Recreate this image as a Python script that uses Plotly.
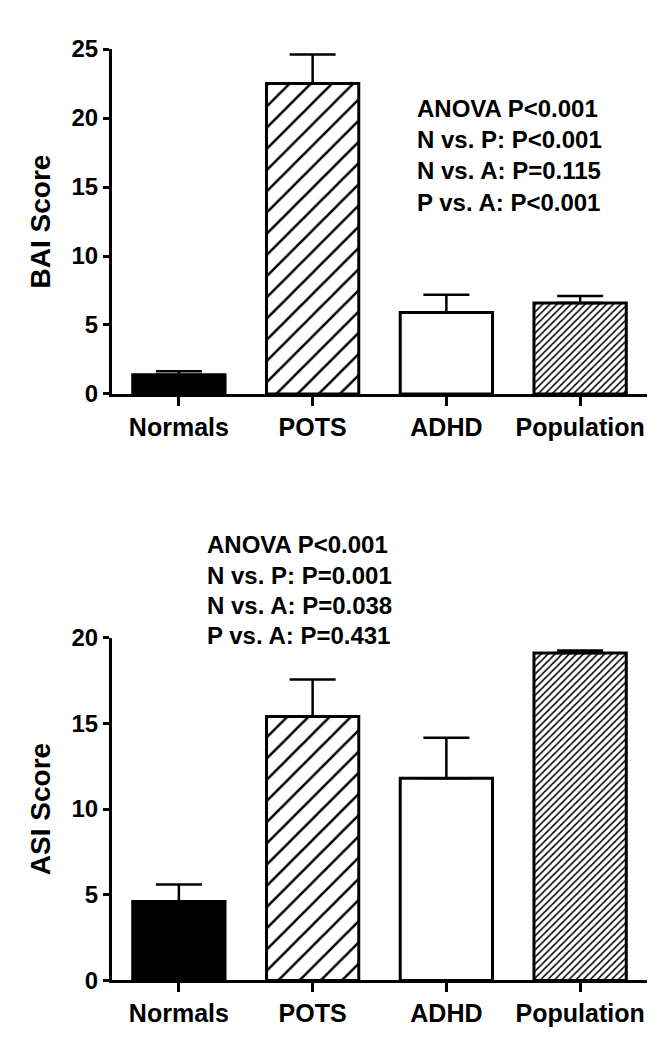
import plotly.graph_objects as go

categories = ["Normals", "POTS", "ADHD", "Population"]

bai_mean = [1.4, 22.5, 5.9, 6.6]
bai_sem = [0.25, 2.1, 1.3, 0.5]

asi_mean = [4.6, 15.4, 11.8, 19.1]
asi_sem = [1.0, 2.15, 2.35, 0.15]

bai_stats = ["ANOVA P&lt;0.001", "N vs. P: P&lt;0.001", "N vs. A: P=0.115", "P vs. A: P&lt;0.001"]
asi_stats = ["ANOVA P&lt;0.001", "N vs. P: P=0.001", "N vs. A: P=0.038", "P vs. A: P=0.431"]

W, H = 672, 1050
FONT = "Liberation Sans, Arial, sans-serif"

# bar styling per group: solid black, coarse hatch, empty, fine hatch
bar_fill = ["black", "white", "white", "white"]
pat_shape = ["", "/", "", "/"]
pat_size = [8, 15, 8, 5]
pat_solid = [0.3, 0.17, 0.3, 0.3]


def px_x(x):
    return x / W


def px_y(y):
    return 1 - y / H


def add_bars(fig, means, sems, xa, ya):
    # one trace per bar so each gets its own fill pattern
    for i, cat in enumerate(categories):
        marker = dict(color=bar_fill[i], line=dict(color="black", width=3))
        if pat_shape[i]:
            marker["pattern"] = dict(shape=pat_shape[i], size=pat_size[i], solidity=pat_solid[i],
                                     fgcolor="black", bgcolor="white", fillmode="replace")
        fig.add_trace(go.Bar(
            x=[cat], y=[means[i]], xaxis=xa, yaxis=ya, width=0.69,
            marker=marker,
            error_y=dict(type="data", symmetric=False, array=[sems[i]], arrayminus=[0],
                         color="black", thickness=2.5, width=23),
            showlegend=False, hoverinfo="skip",
        ))


fig = go.Figure()
add_bars(fig, bai_mean, bai_sem, "x", "y")
add_bars(fig, asi_mean, asi_sem, "x2", "y2")

xdom = [px_x(112), px_x(647)]
tickfont = dict(family=FONT, size=24, color="black", weight="bold")
catfont = dict(family=FONT, size=25, color="black", weight="bold")
titlefont = dict(family=FONT, size=28, color="black", weight="bold")

xaxis_common = dict(
    domain=xdom, range=[-0.5, 3.5], showline=True, linecolor="black", linewidth=3,
    ticks="outside", ticklen=9, tickwidth=3, tickcolor="black", tickfont=catfont,
    categoryorder="array", categoryarray=categories,
    showgrid=False, zeroline=False, fixedrange=True,
)
yaxis_common = dict(
    showline=True, linecolor="black", linewidth=3, dtick=5,
    ticks="outside", ticklen=6, tickwidth=3, tickcolor="black", tickfont=tickfont,
    showgrid=False, zeroline=False, title_standoff=13, title_font=titlefont,
    fixedrange=True,
)

fig.update_layout(
    width=W, height=H,
    margin=dict(l=0, r=0, t=0, b=0),
    paper_bgcolor="white", plot_bgcolor="white",
    barmode="overlay",
    xaxis=dict(anchor="y", **xaxis_common),
    yaxis=dict(anchor="x", domain=[px_y(390), px_y(36)], range=[0, 25],
               title_text="BAI Score", **yaxis_common),
    xaxis2=dict(anchor="y2", **xaxis_common),
    yaxis2=dict(anchor="x2", domain=[px_y(992), px_y(640)], range=[0, 20],
                title_text="ASI Score", **yaxis_common),
)

annfont = dict(family=FONT, size=24, color="black", weight="bold")
for i, line in enumerate(bai_stats):
    fig.add_annotation(text=line, xref="paper", yref="paper", x=px_x(415), y=px_y(97 + 32 * i),
                       xanchor="left", yanchor="middle", showarrow=False, font=annfont)
for i, line in enumerate(asi_stats):
    fig.add_annotation(text=line, xref="paper", yref="paper", x=px_x(205), y=px_y(545 + 31 * i),
                       xanchor="left", yanchor="middle", showarrow=False, font=annfont)

fig.write_html("out.html", config={"displayModeBar": False},
               post_script="document.body.style.margin='0';")
